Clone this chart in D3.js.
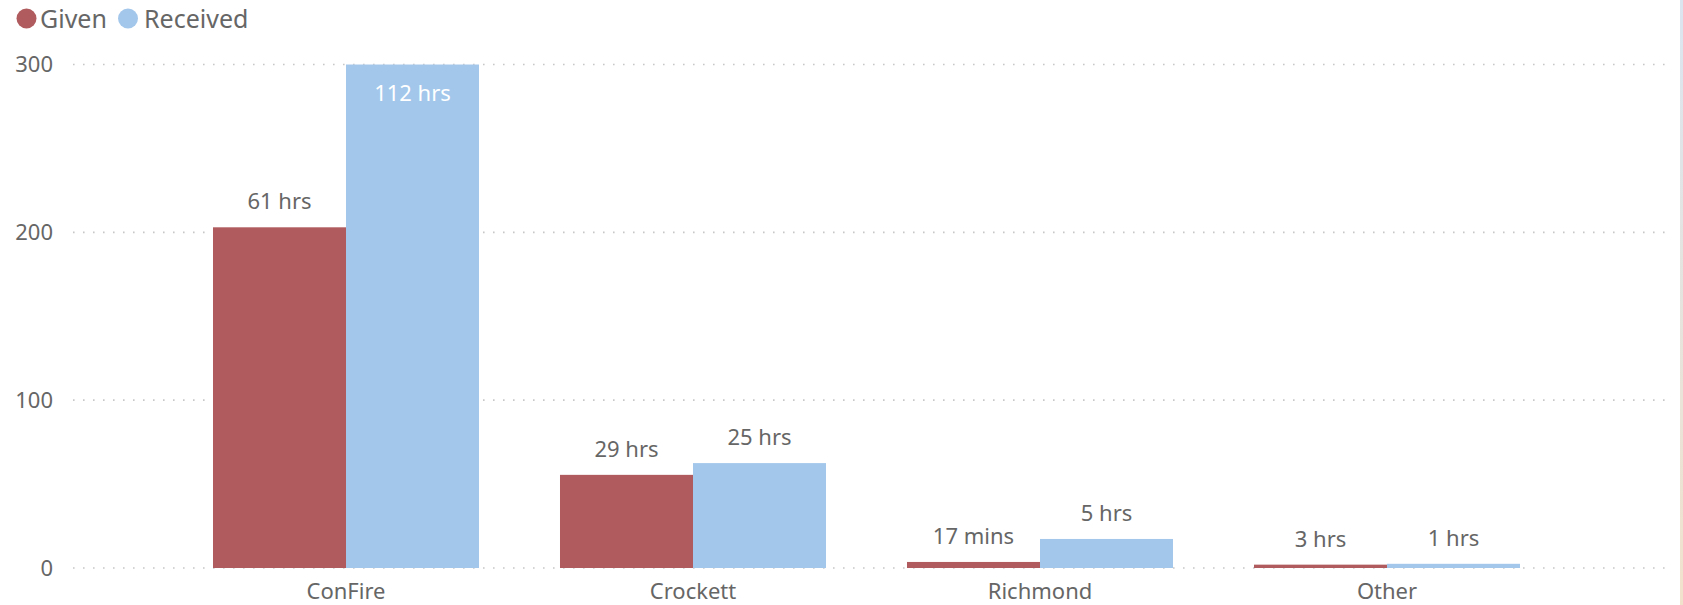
<!DOCTYPE html>
<html>
<head>
<meta charset="utf-8">
<script src="https://cdn.jsdelivr.net/npm/d3@7"></script>
<style>
  html, body { margin: 0; padding: 0; background: #fff; }
  svg { display: block; }
  text { font-family: "Segoe UI", "Noto Sans", "Open Sans", sans-serif; }
</style>
</head>
<body>
<svg id="chart" width="1683" height="605"></svg>
<script>
// ---- data ----
const categories = ["ConFire", "Crockett", "Richmond", "Other"];
const seriesNames = ["Given", "Received"];
const givenValues = [203, 55.5, 3.6, 2];
const receivedValues = [300, 62.5, 17.3, 2.5];
const givenLabels = ["61 hrs", "29 hrs", "17 mins", "3 hrs"];
const receivedLabels = ["112 hrs", "25 hrs", "5 hrs", "1 hrs"];
const yTicks = [0, 100, 200, 300];
const colors = ["#B05C5E", "#A3C7EB"];

const W = 1683, H = 605;
const svg = d3.select("#chart");
const textColor = "#666666";

const y = d3.scaleLinear().domain([0, 300]).range([568, 64.5]);
const x = d3.scaleBand().domain(categories).range([172.5, 1560.5])
  .paddingInner(0.2334).paddingOuter(0.1167);
const xs = d3.scaleBand().domain(seriesNames).range([0, x.bandwidth()]);

// gridlines
const grid = svg.append("g");
grid.selectAll("line").data(yTicks).join("line")
  .attr("x1", 73).attr("x2", 1666)
  .attr("y1", d => y(d)).attr("y2", d => y(d))
  .attr("stroke", "#c8c8c8").attr("stroke-width", 1.6)
  .attr("stroke-dasharray", "1.6 8.4");

// y axis labels via d3 axis
const yAxis = svg.append("g").attr("transform", "translate(53,0)")
  .call(d3.axisLeft(y).tickValues(yTicks).tickSize(0).tickPadding(0));
yAxis.select(".domain").remove();
yAxis.selectAll("text").attr("fill", textColor).attr("font-size", 22)
  .style("font-family", '"Segoe UI", "Noto Sans", sans-serif');

// x axis labels
const xAxis = svg.append("g").attr("transform", "translate(0,568)")
  .call(d3.axisBottom(x).tickSize(0).tickPadding(0));
xAxis.select(".domain").remove();
xAxis.selectAll("text").attr("fill", textColor).attr("font-size", 22)
  .attr("dy", null).attr("y", 31)
  .style("font-family", '"Segoe UI", "Noto Sans", sans-serif');

// bars
const rows = categories.map((c, i) => ({
  cat: c,
  vals: [
    { s: "Given", v: givenValues[i], label: givenLabels[i] },
    { s: "Received", v: receivedValues[i], label: receivedLabels[i] }
  ]
}));

const groups = svg.append("g").selectAll("g").data(rows).join("g")
  .attr("transform", d => `translate(${x(d.cat)},0)`);

groups.selectAll("rect").data(d => d.vals).join("rect")
  .attr("x", d => xs(d.s))
  .attr("width", xs.bandwidth())
  .attr("y", d => y(d.v))
  .attr("height", d => y(0) - y(d.v))
  .attr("fill", (d, i) => colors[i]);

groups.selectAll("text").data(d => d.vals).join("text")
  .attr("x", d => xs(d.s) + xs.bandwidth() / 2)
  .attr("y", d => {
    const top = y(d.v);
    return top < 100 ? top + 36 : top - 18;
  })
  .attr("text-anchor", "middle")
  .attr("font-size", 22)
  .attr("fill", d => y(d.v) < 100 ? "#ffffff" : textColor)
  .text(d => d.label);

// legend
const legend = svg.append("g");
const legendX = [26.5, 128];
const legendTextX = [40, 144];
seriesNames.forEach((s, i) => {
  legend.append("circle").attr("cx", legendX[i]).attr("cy", 18.5).attr("r", 10)
    .attr("fill", colors[i]);
  legend.append("text").attr("x", legendTextX[i]).attr("y", 28)
    .attr("font-size", 25).attr("fill", textColor).text(s);
});

// right frame edge
const defs = svg.append("defs");
const grad = defs.append("linearGradient").attr("id", "edge")
  .attr("x1", 0).attr("y1", 0).attr("x2", 0).attr("y2", 1);
grad.append("stop").attr("offset", "0%").attr("stop-color", "#dbe5f0");
grad.append("stop").attr("offset", "100%").attr("stop-color", "#f1e2cc");
svg.append("rect").attr("x", 1680).attr("y", 0).attr("width", 3).attr("height", H)
  .attr("fill", "url(#edge)");
</script>
</body>
</html>
